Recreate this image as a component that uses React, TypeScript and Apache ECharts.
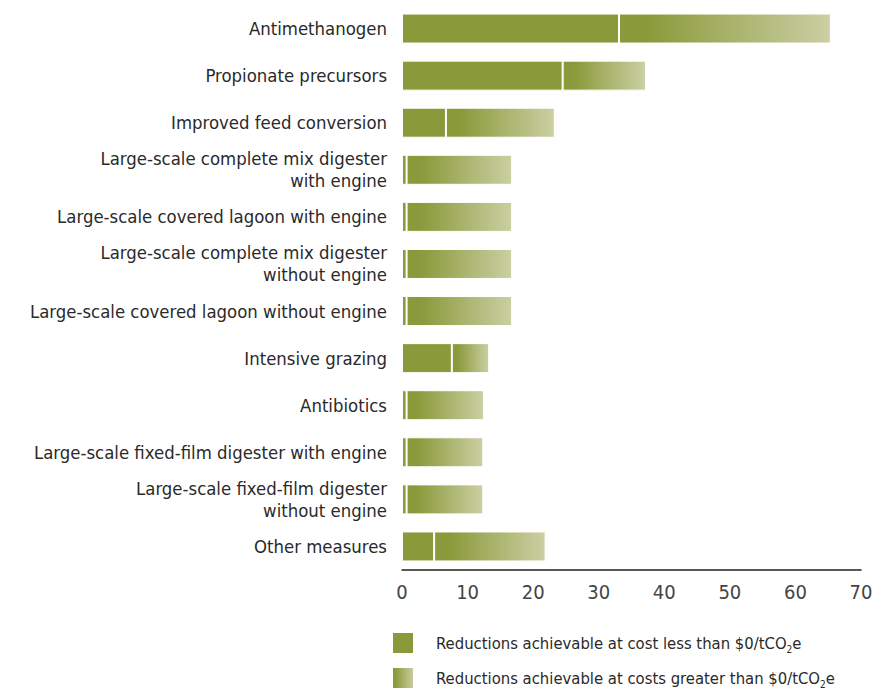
import React, { useEffect, useRef } from "react";
import * as echarts from "echarts";

const categories = [
  "Antimethanogen",
  "Propionate precursors",
  "Improved feed conversion",
  "Large-scale complete mix digester\nwith engine",
  "Large-scale covered lagoon with engine",
  "Large-scale complete mix digester\nwithout engine",
  "Large-scale covered lagoon without engine",
  "Intensive grazing",
  "Antibiotics",
  "Large-scale fixed-film digester with engine",
  "Large-scale fixed-film digester\nwithout engine",
  "Other measures",
];
const lessThanZero = [33.1, 24.5, 6.7, 0.7, 0.7, 0.7, 0.7, 7.6, 0.7, 0.7, 0.7, 4.9];
const totals = [65.4, 37.2, 23.3, 16.8, 16.8, 16.8, 16.8, 13.3, 12.5, 12.4, 12.4, 21.9];
const greaterThanZero = totals.map((t, i) => +(t - lessThanZero[i]).toFixed(2));

const seriesNames = [
  "Reductions achievable at cost less than $0/tCO2e",
  "Reductions achievable at costs greater than $0/tCO2e",
];

const FONT = "'DejaVu Sans Condensed', 'DejaVu Sans', sans-serif";
const OLIVE = "#8a9939";
const PALE = "#cbcfa3";
const TEXT = "#2a2a2a";

const legendBase = (top: number, name: string) => ({
  orient: "horizontal",
  left: 391,
  top,
  padding: 0,
  itemWidth: 22,
  itemHeight: 22,
  icon: "rect",
  data: [name],
  selectedMode: false,
  formatter: (n: string) => n.replace("CO2e", "CO{sub|2}e"),
  textStyle: {
    fontFamily: FONT,
    fontSize: 16.5,
    color: TEXT,
    padding: [0, 0, 0, 17],
    rich: {
      sub: { fontFamily: FONT, fontSize: 10, color: TEXT, padding: [12, 0, 0, 0] },
    },
  },
});

export default function App() {
  const ref = useRef<HTMLDivElement>(null);
  useEffect(() => {
    document.body.style.margin = "0";
    document.body.style.overflow = "hidden";
    if (!ref.current) return;
    const chart = echarts.init(ref.current, undefined, { renderer: "svg" });
    const grad = new echarts.graphic.LinearGradient(0, 0, 1, 0, [
      { offset: 0, color: OLIVE },
      { offset: 0.12, color: OLIVE },
      { offset: 1, color: PALE },
    ]);
    chart.setOption({
      animation: false,
      grid: { left: 402, right: 15, top: 5, bottom: 122, containLabel: false },
      xAxis: {
        type: "value",
        min: 0,
        max: 70,
        interval: 10,
        axisLine: { show: true, lineStyle: { color: "#222", width: 1.5 } },
        axisTick: { show: false },
        splitLine: { show: false },
        axisLabel: { fontFamily: FONT, fontSize: 20, color: "#444", margin: 12 },
      },
      yAxis: {
        type: "category",
        inverse: true,
        data: categories,
        axisLine: { show: false },
        axisTick: { show: false },
        axisLabel: {
          fontFamily: FONT,
          fontSize: 18.4,
          lineHeight: 22,
          color: TEXT,
          margin: 15,
          align: "right",
        },
      },
      legend: [legendBase(631, seriesNames[0]), legendBase(666, seriesNames[1])],
      series: [
        {
          name: seriesNames[0],
          type: "bar",
          stack: "total",
          barWidth: 30,
          data: lessThanZero,
          itemStyle: { color: OLIVE, borderColor: "#ffffff", borderWidth: 1 },
        },
        {
          name: seriesNames[1],
          type: "bar",
          stack: "total",
          barWidth: 30,
          data: greaterThanZero,
          itemStyle: { color: grad, borderColor: "#ffffff", borderWidth: 1 },
        },
      ],
    });
    return () => chart.dispose();
  }, []);
  return <div ref={ref} style={{ width: 876, height: 692 }} />;
}
